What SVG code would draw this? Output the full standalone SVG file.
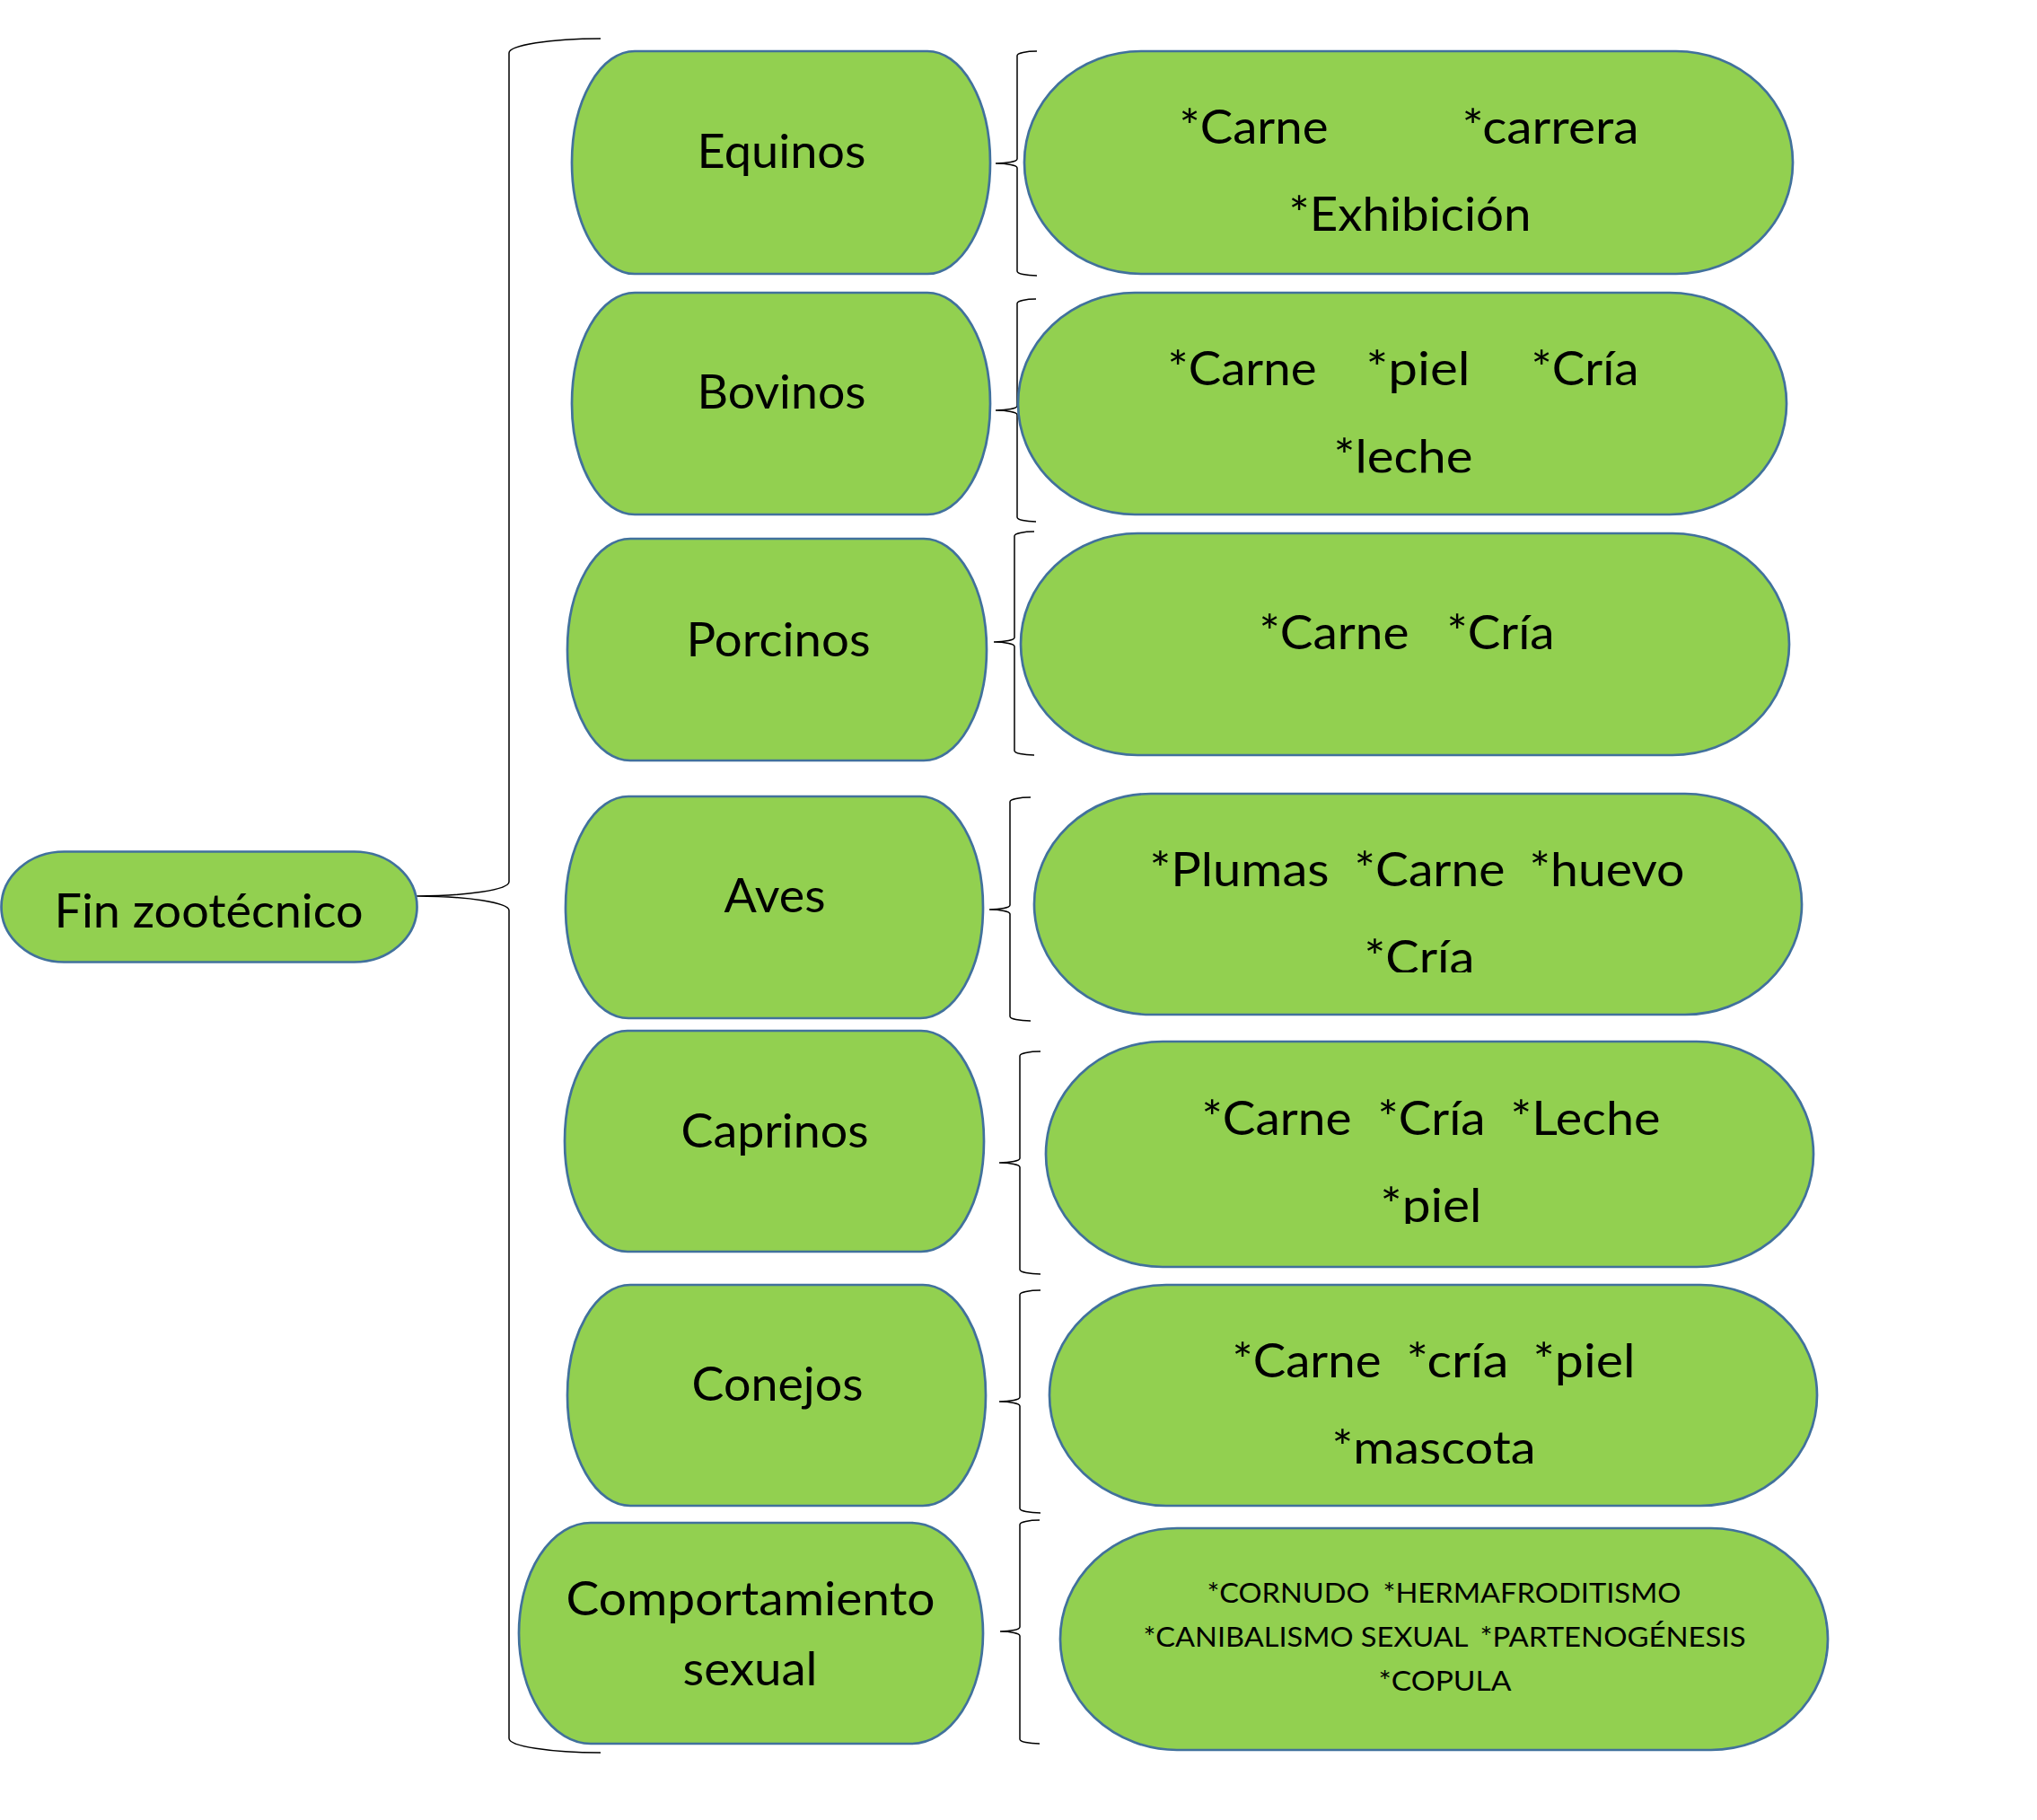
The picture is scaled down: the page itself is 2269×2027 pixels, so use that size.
<svg xmlns="http://www.w3.org/2000/svg" width="2269" height="2027" viewBox="0 0 2269 2027">
<style>
.n{fill:#92D050;stroke:#41719C;stroke-width:2.7}
.t{font-family:Lato,"Liberation Sans",sans-serif;font-size:52px;fill:#000;text-anchor:middle}
.s{font-family:Lato,"Liberation Sans",sans-serif;font-size:31px;fill:#000;text-anchor:middle}
.b{fill:none;stroke:#000;stroke-width:1.5}
</style>
<defs>
<clipPath id="cBov"><rect x="1134" y="326" width="856" height="200.5"/></clipPath>
<clipPath id="cAve"><rect x="1152" y="884" width="855" height="199"/></clipPath>
<clipPath id="cCap"><rect x="1165" y="1160" width="855" height="203"/></clipPath>
<clipPath id="cCon"><rect x="1169" y="1431" width="855" height="199"/></clipPath>
</defs>
<rect width="2269" height="2027" fill="#fff"/>
<g id="connectors">
<path class="b" d="M669 43 A102 16 0 0 0 567 59 V982 A103 16 0 0 1 464 998 A103 16 0 0 1 567 1014 V1936 A102 16 0 0 0 669 1952"/>
<path class="b" d="M1155 57 A22 5 0 0 0 1133 62 V177 A24 5 0 0 1 1109 182 A24 5 0 0 1 1133 187 V302 A22 5 0 0 0 1155 307"/>
<path class="b" d="M1154 333 A21 5 0 0 0 1133 338 V452 A24 5 0 0 1 1109 457 A24 5 0 0 1 1133 462 V576 A21 5 0 0 0 1154 581"/>
<path class="b" d="M1152 592 A22 5 0 0 0 1130 597 V710 A23 5 0 0 1 1107 715 A23 5 0 0 1 1130 720 V836 A22 5 0 0 0 1152 841"/>
<path class="b" d="M1148 888 A23 5 0 0 0 1125 893 V1008 A23 5 0 0 1 1102 1013 A23 5 0 0 1 1125 1018 V1132 A23 5 0 0 0 1148 1137"/>
<path class="b" d="M1159 1171 A23 5 0 0 0 1136 1176 V1290 A23 5 0 0 1 1113 1295 A23 5 0 0 1 1136 1300 V1414 A23 5 0 0 0 1159 1419"/>
<path class="b" d="M1159 1437 A23 5 0 0 0 1136 1442 V1556 A23 5 0 0 1 1113 1561 A23 5 0 0 1 1136 1566 V1680 A23 5 0 0 0 1159 1685"/>
<path class="b" d="M1158 1693 A22 5 0 0 0 1136 1698 V1812 A22 5 0 0 1 1114 1817 A22 5 0 0 1 1136 1822 V1937 A22 5 0 0 0 1158 1942"/>
</g>
<g id="root">
<rect class="n" x="1.5" y="948.5" width="463" height="123" rx="70" ry="61.5"/>
<text class="t" x="232.5" y="1033" textLength="344" lengthAdjust="spacingAndGlyphs">Fin zootécnico</text>
</g>
<g id="equinos">
<rect class="n" x="637" y="57" width="466" height="248" rx="70" ry="124"/>
<text class="t" x="870.5" y="187" textLength="188" lengthAdjust="spacingAndGlyphs">Equinos</text>
</g>
<g id="bovinos">
<rect class="n" x="637" y="326" width="466" height="247" rx="70" ry="123.5"/>
<text class="t" x="870.5" y="455" textLength="188" lengthAdjust="spacingAndGlyphs">Bovinos</text>
</g>
<g id="porcinos">
<rect class="n" x="632" y="600" width="467" height="247" rx="70" ry="123.5"/>
<text class="t" x="867" y="731" textLength="205" lengthAdjust="spacingAndGlyphs">Porcinos</text>
</g>
<g id="aves">
<rect class="n" x="630" y="887" width="465" height="247" rx="70" ry="123.5"/>
<text class="t" x="863" y="1016" textLength="113" lengthAdjust="spacingAndGlyphs">Aves</text>
</g>
<g id="caprinos">
<rect class="n" x="629" y="1148" width="467" height="246" rx="70" ry="123"/>
<text class="t" x="863" y="1278" textLength="209" lengthAdjust="spacingAndGlyphs">Caprinos</text>
</g>
<g id="conejos">
<rect class="n" x="632" y="1431" width="466" height="246" rx="70" ry="123"/>
<text class="t" x="866" y="1560" textLength="191" lengthAdjust="spacingAndGlyphs">Conejos</text>
</g>
<g id="comportamiento">
<rect class="n" x="578" y="1696" width="517" height="246" rx="80" ry="123"/>
<text class="t" x="836" y="1799" textLength="411" lengthAdjust="spacingAndGlyphs">Comportamiento</text>
<text class="t" x="835.5" y="1877" textLength="150" lengthAdjust="spacingAndGlyphs">sexual</text>
</g>
<g id="equinos-fines">
<rect class="n" x="1141" y="57" width="856" height="248" rx="130" ry="124"/>
<text class="t" x="1396.5" y="160" textLength="166" lengthAdjust="spacingAndGlyphs">*Carne</text>
<text class="t" x="1727" y="160" textLength="197" lengthAdjust="spacingAndGlyphs">*carrera</text>
<text class="t" x="1570.5" y="257" textLength="270" lengthAdjust="spacingAndGlyphs">*Exhibición</text>
</g>
<g id="bovinos-fines">
<rect class="n" x="1134" y="326" width="856" height="247" rx="130" ry="123.5"/>
<text class="t" x="1383.5" y="429" textLength="166" lengthAdjust="spacingAndGlyphs">*Carne</text>
<text class="t" x="1579.5" y="429" textLength="116" lengthAdjust="spacingAndGlyphs">*piel</text>
<text class="t" x="1765.5" y="429" textLength="120" lengthAdjust="spacingAndGlyphs">*Cría</text>
<text class="t" x="1563" y="527" textLength="155" lengthAdjust="spacingAndGlyphs" clip-path="url(#cBov)">*leche</text>
</g>
<g id="porcinos-fines">
<rect class="n" x="1137" y="594" width="856" height="247" rx="130" ry="123.5"/>
<text class="t" x="1486" y="723" textLength="167" lengthAdjust="spacingAndGlyphs">*Carne</text>
<text class="t" x="1671.5" y="723" textLength="120" lengthAdjust="spacingAndGlyphs">*Cría</text>
</g>
<g id="aves-fines">
<rect class="n" x="1152" y="884" width="855" height="246" rx="130" ry="123"/>
<text class="t" x="1380.5" y="987" textLength="200" lengthAdjust="spacingAndGlyphs">*Plumas</text>
<text class="t" x="1592.5" y="987" textLength="168" lengthAdjust="spacingAndGlyphs">*Carne</text>
<text class="t" x="1790" y="987" textLength="173" lengthAdjust="spacingAndGlyphs">*huevo</text>
<text class="t" x="1581" y="1085" textLength="123" lengthAdjust="spacingAndGlyphs" clip-path="url(#cAve)">*Cría</text>
</g>
<g id="caprinos-fines">
<rect class="n" x="1165" y="1160" width="855" height="251" rx="130" ry="125.5"/>
<text class="t" x="1422" y="1264" textLength="167" lengthAdjust="spacingAndGlyphs">*Carne</text>
<text class="t" x="1594.5" y="1264" textLength="120" lengthAdjust="spacingAndGlyphs">*Cría</text>
<text class="t" x="1766" y="1264" textLength="167" lengthAdjust="spacingAndGlyphs">*Leche</text>
<text class="t" x="1594" y="1361" textLength="113" lengthAdjust="spacingAndGlyphs" clip-path="url(#cCap)">*piel</text>
</g>
<g id="conejos-fines">
<rect class="n" x="1169" y="1431" width="855" height="246" rx="130" ry="123"/>
<text class="t" x="1455.5" y="1534" textLength="166" lengthAdjust="spacingAndGlyphs">*Carne</text>
<text class="t" x="1623.5" y="1534" textLength="114" lengthAdjust="spacingAndGlyphs">*cría</text>
<text class="t" x="1764.5" y="1534" textLength="114" lengthAdjust="spacingAndGlyphs">*piel</text>
<text class="t" x="1597" y="1631" textLength="227" lengthAdjust="spacingAndGlyphs" clip-path="url(#cCon)">*mascota</text>
</g>
<g id="comportamiento-fines">
<rect class="n" x="1181" y="1702" width="855" height="247" rx="130" ry="123.5"/>
<text class="s" x="1435" y="1785" textLength="181" lengthAdjust="spacingAndGlyphs">*CORNUDO</text>
<text class="s" x="1706.5" y="1785" textLength="332" lengthAdjust="spacingAndGlyphs">*HERMAFRODITISMO</text>
<text class="s" x="1454.5" y="1834" textLength="362" lengthAdjust="spacingAndGlyphs">*CANIBALISMO SEXUAL</text>
<text class="s" x="1796.5" y="1834" textLength="296" lengthAdjust="spacingAndGlyphs">*PARTENOGÉNESIS</text>
<text class="s" x="1609.5" y="1883" textLength="148" lengthAdjust="spacingAndGlyphs">*COPULA</text>
</g>
</svg>
